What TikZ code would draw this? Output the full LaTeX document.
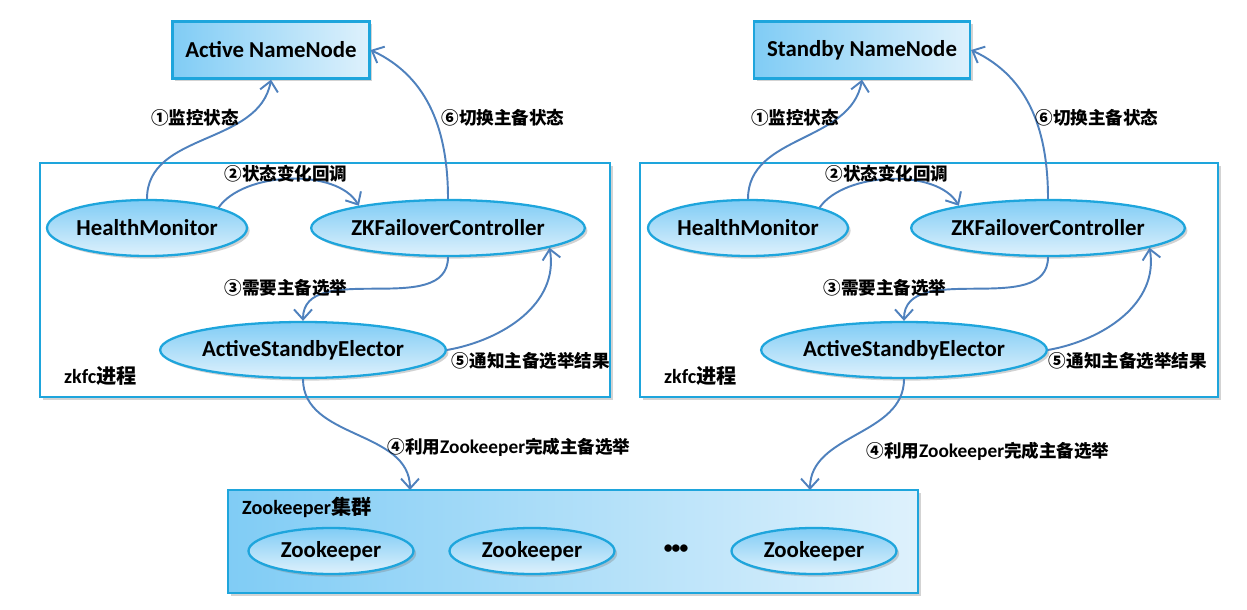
\documentclass[tikz,border=0pt]{standalone}
\usepackage{fontspec}
\setmainfont{Carlito}
\newfontfamily\cjk{Noto Sans CJK SC}
\usepackage{tikz}
\usetikzlibrary{arrows.meta,shapes.geometric,shadows,positioning}
\definecolor{zkline}{RGB}{30,165,220}
\definecolor{zkarrow}{RGB}{79,129,189}
\definecolor{zkdark}{RGB}{128,204,245}
\definecolor{zklight}{RGB}{222,241,252}
\newcommand{\zh}[1]{{\cjk #1}}
\tikzstyle{shade box} = [drop shadow={opacity=0.35,shadow xshift=1.5pt,shadow yshift=-1.5pt}]
\tikzstyle{nnbox} = [draw=zkline, line width=1.3pt, left color=zkdark, right color=zklight, minimum height=1.14cm, shade box, font=\fontsize{13}{15}\selectfont\bfseries]
\tikzstyle{proc} = [ellipse, draw=zkline, line width=1.3pt, top color=zkdark, bottom color=zklight, minimum height=1.12cm, inner sep=0pt, shade box, font=\fontsize{13}{15}\selectfont\bfseries]
\tikzstyle{zknode} = [proc, minimum width=3.3cm, minimum height=0.92cm]
\tikzstyle{zkfcbox} = [draw=zkline, line width=1.3pt, fill=white, shade box]
\tikzstyle{arrow} = [line width=1.1pt, zkarrow, -{Straight Barb[length=2mm,width=3.6mm]}]
\tikzstyle{lbl} = [font=\fontsize{10}{12}\selectfont\bfseries]

\begin{document}
\begin{tikzpicture}[x=0.02cm, y=0.02cm]
\useasboundingbox (0,0) rectangle (1247,609);

% NameNodes
\node[nnbox, minimum width=3.94cm] (ann) at (271,559) {Active NameNode};
\node[nnbox, minimum width=4.32cm] (snn) at (862,559) {Standby NameNode};

% zkfc processes
\draw[zkfcbox] (40,212) rectangle (610,446);
\draw[zkfcbox] (640,212) rectangle (1218,446);
\node[lbl, anchor=west, font=\fontsize{11.5}{13}\selectfont\bfseries] (p1) at (58,233) {zkfc\zh{进程}};
\node[lbl, anchor=west, font=\fontsize{11.5}{13}\selectfont\bfseries] (p2) at (658,233) {zkfc\zh{进程}};

\node[proc, minimum width=4cm] (hm1) at (147,381) {HealthMonitor};
\node[proc, minimum width=5.44cm] (zkfc1) at (448,381) {ZKFailoverController};
\node[proc, minimum width=5.68cm] (ase1) at (303,259) {ActiveStandbyElector};

\node[proc, minimum width=4cm] (hm2) at (748,381) {HealthMonitor};
\node[proc, minimum width=5.44cm] (zkfc2) at (1048,381) {ZKFailoverController};
\node[proc, minimum width=5.68cm] (ase2) at (904,259) {ActiveStandbyElector};

% Zookeeper cluster
\node[draw=zkline, line width=1.3pt, left color=zkdark, right color=zklight, shade box,
      minimum width=13.8cm, minimum height=2.06cm] (zk) at (573,67.5) {};
\node[anchor=west, font=\fontsize{11.5}{13}\selectfont\bfseries] (zkt) at (236,102) {Zookeeper\zh{集群}};
\node[zknode] (zk1) at (331,58) {Zookeeper};
\node[zknode] (zk2) at (532,58) {Zookeeper};
\node[font=\fontsize{10}{10}\selectfont\bfseries] (zkd) at (676,60) {\textbullet\kern-0.5pt\textbullet\kern-0.5pt\textbullet};
\node[zknode] (zk3) at (814,58) {Zookeeper};
\coordinate (zkin1) at (410,119);
\coordinate (zkin2) at (810,119);

% left side
\draw[arrow] (hm1.north) to[out=90,in=-100] (ann.south);
\draw[arrow] (zkfc1.north) to[out=90,in=-25] (ann.east);
\draw[arrow] (hm1.16) to[out=55,in=120,looseness=0.8] (zkfc1.166);
\draw[arrow] (zkfc1.south) to[out=-90,in=90] (ase1.north);
\draw[arrow] (ase1.east) to[out=10,in=-80] (zkfc1.-11);
\draw[arrow] (ase1.south) to[out=-90,in=90] (zkin1);

\node[lbl] (a1) at (195,491) {\zh{①监控状态}};
\node[lbl] (a6) at (503,491) {\zh{⑥切换主备状态}};
\node[lbl] (a2) at (286,435) {\zh{②状态变化回调}};
\node[lbl] (a3) at (286,321) {\zh{③需要主备选举}};
\node[lbl] (a5) at (531,248) {\zh{⑤通知主备选举结果}};
\node[lbl] (a4) at (509,162) {\zh{④利用}{\fontsize{11}{12}\selectfont Zookeeper}\zh{完成主备选举}};

% right side
\draw[arrow] (hm2.north) to[out=90,in=-100] (snn.south);
\draw[arrow] (zkfc2.north) to[out=90,in=-25] (snn.east);
\draw[arrow] (hm2.16) to[out=55,in=120,looseness=0.8] (zkfc2.166);
\draw[arrow] (zkfc2.south) to[out=-90,in=90] (ase2.north);
\draw[arrow] (ase2.east) to[out=10,in=-80] (zkfc2.-11);
\draw[arrow] (ase2.south) to[out=-90,in=90] (zkin2);

\node[lbl] (b1) at (795,491) {\zh{①监控状态}};
\node[lbl] (b6) at (1097,491) {\zh{⑥切换主备状态}};
\node[lbl] (b2) at (887,435) {\zh{②状态变化回调}};
\node[lbl] (b3) at (885,321) {\zh{③需要主备选举}};
\node[lbl] (b5) at (1128,248) {\zh{⑤通知主备选举结果}};
\node[lbl] (b4) at (988,158) {\zh{④利用}{\fontsize{11}{12}\selectfont Zookeeper}\zh{完成主备选举}};
\end{tikzpicture}
\end{document}
